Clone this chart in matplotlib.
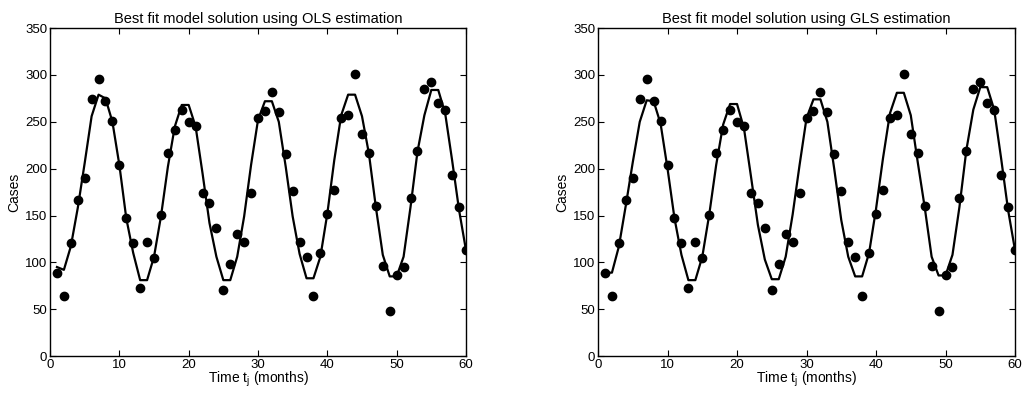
import numpy as np
import matplotlib
matplotlib.use('Agg')
import matplotlib.pyplot as plt

plt.rcParams['font.family'] = ['Liberation Sans', 'DejaVu Sans']

# Datos observados (casos por mes)
meses = list(range(1, 61))
casos = [89, 64, 121, 167, 190, 274, 296, 272, 251, 204,
         147, 121, 73, 122, 105, 151, 217, 241, 263, 250,
         246, 174, 163, 137, 71, 98, 130, 122, 174, 254,
         262, 282, 260, 216, 176, 122, 106, 64, 110, 152,
         177, 254, 257, 301, 237, 217, 160, 96, 48, 86,
         95, 169, 219, 285, 292, 270, 263, 193, 159, 113]

# Solucion del modelo OLS
modelo_ols = [95, 92, 117, 158, 206, 256, 279, 275, 250, 204,
              147, 110, 81, 81, 106, 149, 202, 245, 268, 268,
              245, 195, 142, 106, 81, 81, 106, 149, 204, 252,
              272, 272, 250, 202, 149, 109, 83, 83, 106, 152,
              209, 257, 279, 279, 256, 216, 159, 108, 85, 85,
              106, 159, 218, 257, 284, 284, 259, 209, 156, 113]

# Solucion del modelo GLS
modelo_gls = [89, 89, 117, 161, 207, 250, 273, 272, 248, 200,
              147, 108, 81, 81, 106, 151, 204, 247, 269, 269,
              243, 192, 140, 103, 82, 82, 106, 151, 204, 254,
              274, 274, 250, 199, 145, 106, 85, 85, 110, 157,
              211, 259, 281, 281, 257, 207, 159, 106, 86, 86,
              108, 159, 220, 263, 287, 287, 263, 211, 156, 113]

titulos = ['Best fit model solution using OLS estimation',
           'Best fit model solution using GLS estimation']

fig = plt.figure(figsize=(10.23, 3.95), dpi=100)
fig.patch.set_facecolor('white')
ax1 = fig.add_axes([0.0489, 0.0987, 0.4066, 0.830])
ax2 = fig.add_axes([0.5846, 0.0987, 0.4076, 0.830])

for ax, modelo, titulo in zip([ax1, ax2], [modelo_ols, modelo_gls], titulos):
    ax.plot(meses, modelo, color='black', linewidth=1.6)
    ax.plot(meses, casos, 'o', color='black', markersize=6)
    ax.set_xlim(0, 60)
    ax.set_ylim(0, 350)
    ax.set_xticks(range(0, 61, 10))
    ax.set_yticks(range(0, 351, 50))
    ax.tick_params(direction='in', top=True, right=True, length=4, width=0.8,
                   labelsize=9.5, pad=2)
    for s in ax.spines.values():
        s.set_linewidth(1.0)
    ax.set_title(titulo, fontsize=10.5, pad=4)
    ax.set_xlabel('Time t$_\\mathregular{j}$ (months)', fontsize=10, labelpad=-1)
    ax.set_ylabel('Cases', fontsize=10, labelpad=3)

plt.savefig('out.png', dpi=100, facecolor='white')
